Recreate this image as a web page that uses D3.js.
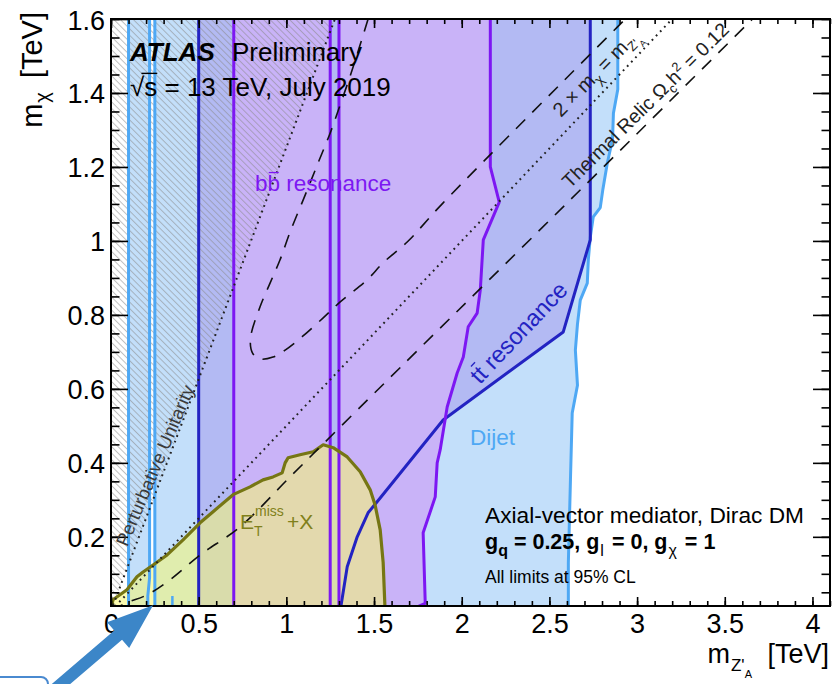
<!DOCTYPE html>
<meta charset="utf-8">
<style>
body { margin: 0; background: #fff; }
svg { display: block; font-family: "Liberation Sans", Arial, Helvetica, sans-serif; }
.axis text { font-size: 27px; fill: #000; font-family: "Liberation Sans", Arial, sans-serif; }
.axis line { stroke: #000; stroke-width: 1.6px; }
.axis path { display: none; }
</style>
<svg width="833" height="684"></svg>
<script src="https://d3js.org/d3.v7.min.js"></script>
<script>

// axis ticks
var xTicks = [0, 0.5, 1, 1.5, 2, 2.5, 3, 3.5, 4];
var yTicks = [0.2, 0.4, 0.6, 0.8, 1, 1.2, 1.4, 1.6];

// exclusion contours, points are [m_Z'A, m_chi] in TeV
var dijetLowEdge = [[0.22, 1.7], [0.22, 0.09], [0.21, 0.04], [0.21, 0]];
var dijetEdge = [[2.89, 1.7], [2.89, 1.41], [2.865, 1.345], [2.86, 1.275], [2.83, 1.21],
  [2.805, 1.14], [2.79, 1.09], [2.75, 1.065], [2.733, 1.01], [2.722, 0.95], [2.716, 0.886],
  [2.676, 0.84], [2.66, 0.775], [2.648, 0.705], [2.66, 0.61], [2.63, 0.535], [2.62, 0.355],
  [2.608, 0.13], [2.608, 0]];
var dijetWalls = [0.1, 0.25];
var dijetStub = [[0.35, 0], [0.35, 0.04]];

var ttWall = 0.5;
var ttEdge = [[2.733, 1.7], [2.733, 1.003], [2.579, 0.754], [1.894, 0.516], [1.535, 0.305],
  [1.466, 0.265], [1.404, 0.2], [1.347, 0.119], [1.307, 0]];

var bbBand = [0.7, 1.25];
var bbWall = 1.3;
var bbEdge = [[2.163, 1.7], [2.163, 1.2], [2.214, 1.105], [2.123, 1.003], [2.106, 0.868],
  [2.088, 0.805], [2.037, 0.768], [2.009, 0.686], [1.974, 0.643], [1.917, 0.551], [1.877, 0.435],
  [1.86, 0.4], [1.849, 0.308], [1.78, 0.211], [1.792, 0.02], [1.718, 0.005]];

var etmiss = [[0, 0], [0.011, 0.03], [0.091, 0.057], [0.148, 0.092], [0.183, 0.105], [0.24, 0.124],
  [0.32, 0.151], [0.411, 0.192], [0.508, 0.238], [0.582, 0.268], [0.696, 0.314], [0.793, 0.335],
  [0.867, 0.354], [0.924, 0.362], [0.976, 0.373], [0.993, 0.4], [1.01, 0.414], [1.078, 0.422],
  [1.153, 0.43], [1.21, 0.449], [1.267, 0.441], [1.347, 0.416], [1.421, 0.376], [1.478, 0.327],
  [1.506, 0.286], [1.535, 0.219], [1.552, 0.13], [1.563, 0]];

// thermal relic Omega_c h^2 = 0.12 contours
var relicUpper = [[1.466, 1.6], [1.375, 1.462], [1.307, 1.368], [1.25, 1.292], [1.181, 1.211],
  [1.096, 1.111], [1.021, 1.024], [0.964, 0.949], [0.907, 0.886], [0.85, 0.822], [0.795, 0.735],
  [0.808, 0.696], [0.85, 0.681], [0.924, 0.686], [0.993, 0.705], [1.09, 0.741], [1.21, 0.792],
  [1.307, 0.835], [1.461, 0.895], [1.552, 0.941], [1.689, 0.997], [1.894, 1.103], [2.887, 1.578],
  [2.933, 1.6]];
var relicLower = [[0, 0], [0.091, 0.022], [0.205, 0.043], [0.337, 0.084], [0.508, 0.151],
  [0.736, 0.227], [1.021, 0.362], [1.307, 0.497], [1.763, 0.711], [2.619, 1.111], [3.658, 1.6]];

var unitarity = [[0, 0], [1.277, 1.6]];
var halfMass = [[0, 0], [3.2, 1.6]];

var svg = d3.select("svg");
var x = d3.scaleLinear().domain([0, 4.1]).range([111, 830]);
var y = d3.scaleLinear().domain([0.013, 1.6]).range([606, 19]);
var line = d3.line().x(function(d) { return x(d[0]); }).y(function(d) { return y(d[1]); });
var smooth = d3.line().x(function(d) { return x(d[0]); }).y(function(d) { return y(d[1]); })
    .curve(d3.curveCatmullRom.alpha(0.5));

var defs = svg.append("defs");
defs.append("clipPath").attr("id", "clip")
  .append("rect").attr("x", 111).attr("y", 19).attr("width", 719).attr("height", 587);
var hatch = defs.append("pattern").attr("id", "hatch")
    .attr("patternUnits", "userSpaceOnUse")
    .attr("width", 4.6).attr("height", 4.6)
    .attr("patternTransform", "rotate(-45)");
hatch.append("line").attr("x1", 2.3).attr("y1", -1).attr("x2", 2.3).attr("y2", 6)
    .attr("stroke", "#8a8a8a").attr("stroke-width", 1);

var plot = svg.append("g").attr("clip-path", "url(#clip)");

var dijetFill = "#c3dffa", dijetLine = "#4ea8f4";
var ttFill = "#b3baf3", ttLine = "#2323c2";
var bbFill = "#c9b3f8", bbLine = "#7d17f2";
var etLine = "#767614";

function vert(v) { return [[v, 0], [v, 1.7]]; }

// fills
plot.append("path").attr("d", line(vert(dijetWalls[0]).concat(dijetLowEdge))).attr("fill", dijetFill);
plot.append("path").attr("d", line(vert(dijetWalls[1]).concat(dijetEdge))).attr("fill", dijetFill);
plot.append("path").attr("d", line(vert(ttWall).concat(ttEdge))).attr("fill", ttFill);
plot.append("path").attr("d", line(vert(bbBand[0]).concat(vert(bbBand[1]).reverse()))).attr("fill", bbFill);
plot.append("path").attr("d", line(vert(bbWall).concat(bbEdge))).attr("fill", bbFill);
plot.append("path").attr("d", line(etmiss)).attr("fill", "#f8f870").attr("fill-opacity", 0.55);

// perturbative unitarity hatching
plot.append("path").attr("d", line([[0, 0], [0, 1.7], [1.277 * 1.7 / 1.6, 1.7]]))
    .attr("fill", "url(#hatch)").attr("opacity", 0.55);

// contour lines
function stroke(pts, col, w) {
  return plot.append("path").attr("d", line(pts)).attr("fill", "none")
    .attr("stroke", col).attr("stroke-width", w).attr("stroke-linejoin", "round");
}
stroke(vert(dijetWalls[0]), dijetLine, 3);
stroke(vert(dijetWalls[1]), dijetLine, 3);
stroke(dijetLowEdge, dijetLine, 3);
stroke(dijetEdge, dijetLine, 3);
stroke(dijetStub, dijetLine, 2.5);
stroke(vert(ttWall), ttLine, 3);
stroke(ttEdge, ttLine, 3);
stroke(vert(bbBand[0]), bbLine, 3);
stroke(vert(bbBand[1]), bbLine, 3);
stroke(vert(bbWall), bbLine, 3);
stroke(bbEdge, bbLine, 3);
stroke(etmiss, etLine, 3.2);

// reference lines
stroke(unitarity, "#222", 2).attr("stroke-dasharray", "1.8,4.2");
stroke(halfMass, "#222", 2).attr("stroke-dasharray", "1.8,4.2");
plot.append("path").attr("d", smooth(relicUpper)).attr("fill", "none")
    .attr("stroke", "#111").attr("stroke-width", 1.6).attr("stroke-dasharray", "13,10");
plot.append("path").attr("d", smooth(relicLower)).attr("fill", "none")
    .attr("stroke", "#111").attr("stroke-width", 1.6).attr("stroke-dasharray", "13,10");

// axes
var xMinor = d3.range(0, 42).map(function(i) { return i / 10; });
var yMinor = d3.range(1, 33).map(function(i) { return i * 0.05; });
var fmt = d3.format("~g");

svg.append("g").attr("class", "axis").attr("transform", "translate(0,606)")
    .call(d3.axisBottom(x).tickValues(xMinor).tickSize(-5).tickFormat(""));
svg.append("g").attr("class", "axis").attr("transform", "translate(0,606)")
    .call(d3.axisBottom(x).tickValues(xTicks).tickSize(-9).tickPadding(8).tickFormat(fmt));
svg.append("g").attr("class", "axis").attr("transform", "translate(0,19)")
    .call(d3.axisTop(x).tickValues(xMinor).tickSize(-5).tickFormat(""));
svg.append("g").attr("class", "axis").attr("transform", "translate(0,19)")
    .call(d3.axisTop(x).tickValues(xTicks).tickSize(-9).tickFormat(""));
svg.append("g").attr("class", "axis").attr("transform", "translate(111,0)")
    .call(d3.axisLeft(y).tickValues(yMinor).tickSize(-8.5).tickFormat(""));
svg.append("g").attr("class", "axis").attr("transform", "translate(111,0)")
    .call(d3.axisLeft(y).tickValues(yTicks).tickSize(-17).tickPadding(6).tickFormat(fmt))
  .selectAll("text").attr("dy", "0.37em");
svg.append("g").attr("class", "axis").attr("transform", "translate(830,0)")
    .call(d3.axisRight(y).tickValues(yMinor).tickSize(-8.5).tickFormat(""));
svg.append("g").attr("class", "axis").attr("transform", "translate(830,0)")
    .call(d3.axisRight(y).tickValues(yTicks).tickSize(-17).tickFormat(""));

svg.append("rect").attr("x", 111).attr("y", 19).attr("width", 719).attr("height", 587)
    .attr("fill", "none").attr("stroke", "#000").attr("stroke-width", 2);

// axis titles
var yt = svg.append("text").attr("transform", "translate(42,12) rotate(-90)")
    .attr("text-anchor", "end").attr("font-size", 29);
yt.append("tspan").text("m");
yt.append("tspan").attr("font-size", 20).attr("dy", 7).attr("dx", 1).text("\u03c7");
yt.append("tspan").attr("dy", -7).attr("dx", 6).text(" [TeV]");

var xt = svg.append("text").attr("x", 829).attr("y", 663)
    .attr("text-anchor", "end").attr("font-size", 27);
xt.append("tspan").text("m");
xt.append("tspan").attr("font-size", 17).attr("dy", 8).attr("dx", 1).text("Z'");
xt.append("tspan").attr("font-size", 11).attr("dy", 7).attr("dx", 0).text("A");
xt.append("tspan").attr("dy", -15).attr("dx", 8).text(" [TeV]");

// overline helper
function bar(textSel, idx, fs, col, x0f, x1f) {
  var e = textSel.node().getExtentOfChar(idx);
  var by = +textSel.attr("y") || 0;
  d3.select(textSel.node().parentNode).append("line")
    .attr("x1", e.x + e.width * (x0f || 0.1)).attr("x2", e.x + e.width * (x1f || 0.9))
    .attr("y1", by - 0.82 * fs).attr("y2", by - 0.82 * fs)
    .attr("stroke", col).attr("stroke-width", 1.3);
}

// ATLAS label
var at = svg.append("text").attr("x", 130).attr("y", 61).attr("font-size", 26);
at.append("tspan").attr("font-weight", "bold").attr("font-style", "italic").text("ATLAS");
at.append("tspan").attr("dx", 10).text(" Preliminary");
var rs = svg.append("text").attr("x", 130).attr("y", 96).attr("font-size", 26)
    .text("\u221as = 13 TeV, July 2019");
(function() {
  var e0 = rs.node().getExtentOfChar(0), e1 = rs.node().getExtentOfChar(1);
  svg.append("line").attr("x1", e0.x + e0.width * 0.8).attr("x2", e1.x + e1.width)
    .attr("y1", 96 - 0.87 * 26).attr("y2", 96 - 0.87 * 26)
    .attr("stroke", "#000").attr("stroke-width", 1.4);
})();

// region labels
var bbt = svg.append("text").attr("x", 255).attr("y", 191).attr("font-size", 22.5)
    .attr("fill", bbLine).text("bb resonance");
bar(bbt, 1, 22.5, bbLine);

var ttg = svg.append("g").attr("transform", "translate(480,385) rotate(-46.5)");
var ttt = ttg.append("text").attr("x", 0).attr("y", 0).attr("font-size", 23.5)
    .attr("fill", ttLine).text("tt resonance");
bar(ttt, 1, 23.5, ttLine, 0.0, 1.0);

svg.append("text").attr("x", 470).attr("y", 445).attr("font-size", 22.5)
    .attr("fill", dijetLine).text("Dijet");

var et = svg.append("text").attr("x", 240).attr("y", 529).attr("font-size", 21).attr("fill", "#80801a");
et.append("tspan").text("E");
et.append("tspan").attr("font-size", 14).attr("dy", 7).text("T");
et.append("tspan").attr("font-size", 14).attr("x", 255).attr("dy", -20).text("miss");
et.append("tspan").attr("x", 287).attr("dy", 13).text("+X");

var pu = svg.append("g").attr("transform", "translate(161,468) rotate(-67)");
pu.append("text").attr("text-anchor", "middle").attr("font-size", 18.5).attr("fill", "#3a3a3a")
    .text("Perturbative Unitarity");

var hm = svg.append("g").attr("transform", "translate(561,118) rotate(-45.5)");
var hmt = hm.append("text").attr("font-size", 20).attr("fill", "#222");
hmt.append("tspan").text("2 \u00d7 m");
hmt.append("tspan").attr("font-size", 14).attr("dy", 5).text("\u03c7");
hmt.append("tspan").attr("dy", -5).text(" = m");
hmt.append("tspan").attr("font-size", 13).attr("dy", 5).text("Z'");
hmt.append("tspan").attr("font-size", 9).attr("dy", 4).attr("dx", 0).text("A");

var tr = svg.append("g").attr("transform", "translate(570,189) rotate(-44.6)");
var trt = tr.append("text").attr("font-size", 19.5).attr("fill", "#222");
trt.append("tspan").text("Thermal Relic \u03a9");
trt.append("tspan").attr("font-size", 13).attr("dy", 5).text("c");
trt.append("tspan").attr("dy", -5).text("h");
trt.append("tspan").attr("font-size", 13).attr("dy", -8).text("2");
trt.append("tspan").attr("dy", 8).text(" = 0.12");

// model info
svg.append("text").attr("x", 485).attr("y", 523).attr("font-size", 22.7)
    .text("Axial-vector mediator, Dirac DM");
var gq = svg.append("text").attr("x", 485).attr("y", 549).attr("font-size", 21.5).attr("font-weight", "bold");
gq.append("tspan").text("g");
gq.append("tspan").attr("font-size", 16).attr("dy", 7).text("q");
gq.append("tspan").attr("dy", -7).text(" = 0.25, g");
gq.append("tspan").attr("font-size", 16).attr("dy", 7).attr("dx", 1).attr("font-weight", "normal").text("l");
gq.append("tspan").attr("dy", -7).attr("dx", 2).text(" = 0, g");
gq.append("tspan").attr("font-size", 16).attr("dy", 7).attr("dx", 1).attr("font-weight", "normal").text("\u03c7");
gq.append("tspan").attr("dy", -7).attr("dx", 2).text(" = 1");
svg.append("text").attr("x", 485).attr("y", 583).attr("font-size", 17.5)
    .text("All limits at 95% CL");

// blue call-out arrow pointing at the low-mass corner
(function() {
  var tip = [x(0.24), y(0.015)];
  var ang = Math.atan2(-0.65, 0.76);
  var ux = Math.cos(ang), uy = Math.sin(ang), px = -uy, py = ux;
  var hl = 46, hw = 17, sw = 6;
  var bx = tip[0] - ux * hl, by = tip[1] - uy * hl;
  var tx = bx - ux * 160, ty = by - uy * 160;
  var col = "#3c86c8";
  svg.append("path").attr("fill", col)
    .attr("d", "M" + (tx + px * sw) + "," + (ty + py * sw) +
      "L" + (bx + px * sw) + "," + (by + py * sw) +
      "L" + (bx + px * hw) + "," + (by + py * hw) +
      "L" + tip[0] + "," + tip[1] +
      "L" + (bx - px * hw) + "," + (by - py * hw) +
      "L" + (bx - px * sw) + "," + (by - py * sw) +
      "L" + (tx - px * sw) + "," + (ty - py * sw) + "Z");
  svg.append("rect").attr("x", -20).attr("y", 677).attr("width", 68).attr("height", 40).attr("rx", 7)
    .attr("fill", "none").attr("stroke", "#4a8ad0").attr("stroke-width", 2);
})();

</script>
